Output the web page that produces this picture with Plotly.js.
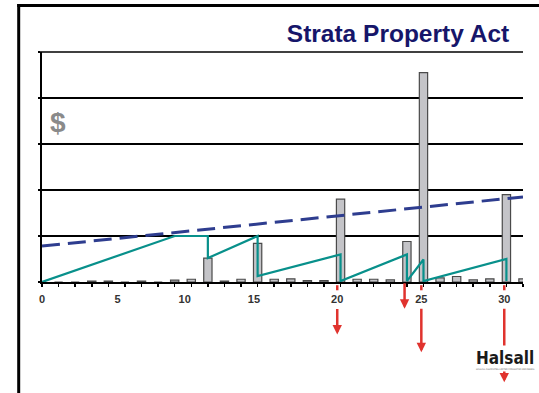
<!DOCTYPE html>
<html>
<head>
<meta charset="utf-8">
<script src="https://cdn.plot.ly/plotly-3.0.1.min.js"></script>
<style>html,body{margin:0;padding:0;background:#fff;}#chart{width:539px;height:393px;}</style>
</head>
<body>
<div id="chart"></div>
<script>
// ---- data ----
var years = [0,1,2,3,4,5,6,7,8,9,10,11,12,13,14,15,16,17,18,19,20,21,22,23,24,25,26,27,28,29];
var expenditures = [0,0,0,0.02,0.02,0,0.02,0,0.04,0.06,0.52,0.02,0.06,0.84,0.06,0.07,0.03,0.03,1.80,0.06,0.06,0.045,0.88,4.55,0.09,0.12,0.045,0.07,1.90,0.07];
var fundX = [0,8,10,10,13,13,18,18,22,22,23,23,28,28];
var fundY = [0,1.0,1.0,0.52,1.0,0.13,0.6,0.02,0.6,0.02,0.49,0.02,0.5,0.02];
var trendX = [0,29];
var trendY = [0.78,1.85];
var tickLabels = ['0','5','10','15','20','25','30'];
var tickPos = [0,4.56,8.6,12.78,17.8,22.87,27.87];
// red event arrows: position, arrow head depth (data units below axis), tail offset (px), dashed stub
var eventX = [17.8,21.86,22.87,27.87];
var eventHead = [-1.14,-0.58,-1.525,-2.18];
var eventTail = [-27,-27,-45,-75];
var eventStub = [true,false,true,true];

// ---- layout geometry ----
var W = 539, H = 393, ML = 42, MR = 16, MT = 52, MB = 111;
var PW = W - ML - MR, PH = H - MT - MB;
var XR = [0,29], YR = [0,5];
function px(x){ return (x - ML) / PW; }
function py(y){ return 1 - (y - MT) / PH; }
function dx(v){ return (v - XR[0]) / (XR[1] - XR[0]); }   // data x -> paper
function dy(v){ return (v - YR[0]) / (YR[1] - YR[0]); }   // data y -> paper

var traces = [
  {type:'bar', x:years, y:expenditures, width:0.5,
   marker:{color:'#c4c4c8', line:{color:'#4a4a4a', width:1.2}},
   hoverinfo:'skip', showlegend:false},
  {type:'scatter', mode:'lines', x:trendX, y:trendY,
   line:{color:'#2e3d8f', width:3, dash:'18px,8px'}, showlegend:false, hoverinfo:'skip'},
  {type:'scatter', mode:'lines', x:fundX, y:fundY,
   line:{color:'#08908b', width:2.2}, showlegend:false, hoverinfo:'skip'}
];

var shapes = [
  {type:'line', xref:'paper', yref:'paper', x0:px(18.7), x1:px(18.7), y0:py(4), y1:py(400), line:{color:'#000', width:3}},
  {type:'line', xref:'paper', yref:'paper', x0:px(17.2), x1:px(545), y0:py(5.5), y1:py(5.5), line:{color:'#000', width:3}},
  {type:'line', xref:'paper', yref:'paper', x0:px(39.5), x1:1, y0:1, y1:1, line:{color:'#000', width:1.5}, layer:'below'}
];
var annotations = [
  {xref:'paper', yref:'paper', x:px(58), y:py(122), xanchor:'center', yanchor:'middle', text:'$', showarrow:false,
   font:{family:'Liberation Sans, Arial, sans-serif', size:28, color:'#8a8a8a', weight:'bold'}}
];
for (var i = 0; i < eventX.length; i++) {
  if (eventStub[i]) {
    shapes.push({type:'line', xref:'paper', yref:'paper', x0:dx(eventX[i]), x1:dx(eventX[i]), y0:dy(-0.07), y1:dy(-0.18),
      line:{color:'#e0332e', width:2.5}});
  }
  annotations.push({xref:'paper', yref:'paper', x:dx(eventX[i]), y:dy(eventHead[i]), ax:0, ay:eventTail[i],
    text:'', showarrow:true, arrowhead:2, arrowsize:0.75, arrowwidth:2.5, arrowcolor:'#e0332e', standoff:0});
}
annotations.push({xref:'paper', yref:'paper', x:px(505), y:py(358), xanchor:'center', yanchor:'middle', text:'<b>Halsall</b>', showarrow:false,
  bgcolor:'#ffffff', borderpad:2,
  font:{family:'DejaVu Sans Condensed, sans-serif', size:17, color:'#1a1a1a'}});
annotations.push({xref:'paper', yref:'paper', x:px(505), y:py(369), xanchor:'center', yanchor:'middle', text:'HALSALL ASSOCIATES LIMITED CONSULTING ENGINEERS', showarrow:false,
  bgcolor:'#ffffff', borderpad:0,
  font:{family:'DejaVu Sans Condensed, sans-serif', size:2.3, color:'#666'}});

var layout = {
  width:W, height:H,
  margin:{l:ML, r:MR, t:MT, b:MB, pad:0},
  paper_bgcolor:'#ffffff', plot_bgcolor:'#ffffff',
  title:{text:'Strata Property Act', xref:'container', yref:'container', x:398/W, y:1-33/H,
    xanchor:'center', yanchor:'middle',
    font:{family:'Liberation Sans, Arial, sans-serif', size:24.5, color:'#16166a', weight:'bold'}},
  xaxis:{range:XR, tickmode:'array', tickvals:tickPos, ticktext:tickLabels, ticks:'',
    showgrid:false, zeroline:false, showline:true, linecolor:'#000', linewidth:2,
    ticklabelstandoff:6,
    tickfont:{family:'Liberation Sans, Arial, sans-serif', size:11, color:'#333', weight:'bold'},
    minor:{tick0:0, dtick:1, ticks:'outside', ticklen:3, tickwidth:1.5, tickcolor:'#000', showgrid:false}},
  yaxis:{range:YR, dtick:1, tick0:0, showticklabels:false, ticks:'outside', ticklen:2, tickwidth:1.5, tickcolor:'#000',
    showgrid:true, gridcolor:'#000', gridwidth:1.5, zeroline:false, showline:true, linecolor:'#000', linewidth:2},
  bargap:0.5,
  shapes:shapes,
  annotations:annotations
};

Plotly.newPlot('chart', traces, layout, {displayModeBar:false, staticPlot:true});
</script>
</body>
</html>
